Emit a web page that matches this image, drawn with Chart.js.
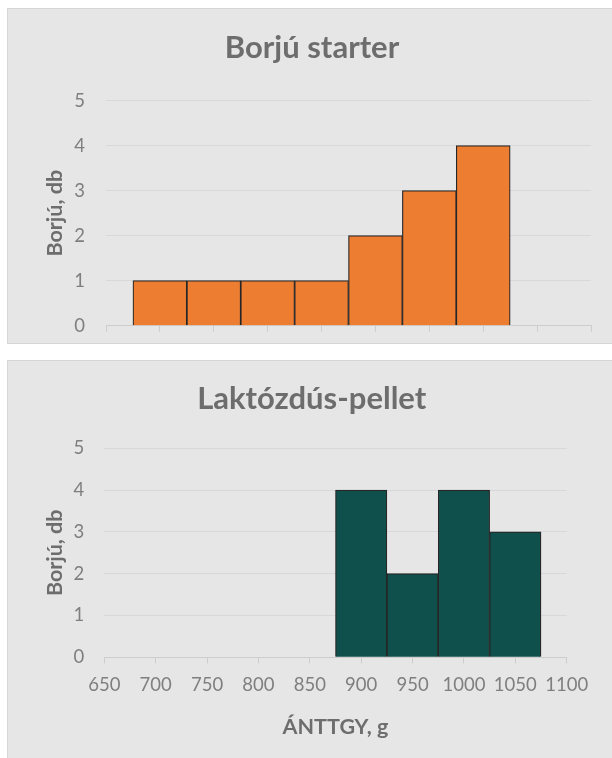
<!DOCTYPE html>
<html lang="hu">
<head>
<meta charset="utf-8">
<script src="https://cdn.jsdelivr.net/npm/chart.js@4"></script>
<style>
    body { margin: 0; background: #fff; width: 612px; height: 758px; overflow: hidden; position: relative; }
    .panel { position: absolute; left: 7px; width: 640px; background: #e6e6e6; border: 1px solid #d6d6d6; }
    #panelTop { top: 8px; height: 334px; }
    #panelBottom { top: 360px; height: 420px; }
    canvas { position: absolute; left: 0; top: 0; }
</style>
</head>
<body>
<div class="panel" id="panelTop"><canvas id="starterChart" width="608" height="350"></canvas></div>
<div class="panel" id="panelBottom"><canvas id="pelletChart" width="608" height="397"></canvas></div>

<script>
// adatok
const xTickLabels = [650, 700, 750, 800, 850, 900, 950, 1000, 1050, 1100];
const yTickLabels = [0, 1, 2, 3, 4, 5];
const starterBins = [700, 750, 800, 850, 900, 950, 1000];
const starterCounts = [1, 1, 1, 1, 2, 3, 4];
const pelletBins = [900, 950, 1000, 1050];
const pelletCounts = [4, 2, 4, 3];

const FONT = 'Lato, "Open Sans", sans-serif';
const TITLE_COLOR = '#6d6d6d';
const TICK_COLOR = '#7f7f7f';

function buildChart(canvasId, opts) {
    const points = opts.bins.map((b, i) => ({ x: b, y: opts.counts[i] }));

    return new Chart(document.getElementById(canvasId), {
        type: 'bar',
        data: {
            datasets: [{
                data: points,
                backgroundColor: opts.color,
                borderColor: '#262626',
                borderWidth: 1.2,
                categoryPercentage: 1,
                barPercentage: 1
            }]
        },
        options: {
            responsive: false,
            animation: false,
            layout: { padding: { left: opts.leftPad, right: opts.rightPad, top: 0, bottom: 0 } },
            plugins: {
                legend: { display: false },
                tooltip: { enabled: false },
                title: {
                    display: true,
                    text: opts.title,
                    color: TITLE_COLOR,
                    font: { family: FONT, size: 31, weight: 'bold' },
                    padding: { top: opts.titleTop, bottom: opts.titleBottom }
                }
            },
            scales: {
                x: {
                    type: 'linear',
                    min: xTickLabels[0],
                    max: xTickLabels[xTickLabels.length - 1],
                    offset: false,
                    afterBuildTicks: (scale) => {
                        scale.ticks = xTickLabels.map(v => ({ value: v }));
                    },
                    afterFit: (scale) => { scale.height = opts.xHeight; },
                    grid: {
                        offset: false,
                        drawOnChartArea: false,
                        drawTicks: true,
                        tickLength: 6,
                        color: '#cdcdcd'
                    },
                    border: { display: true, color: '#cdcdcd' },
                    ticks: {
                        display: opts.showX,
                        color: TICK_COLOR,
                        padding: 10.6,
                        maxRotation: 0,
                        autoSkip: false,
                        font: { family: FONT, size: 18.5 },
                        callback: (v) => String(v)
                    },
                    title: {
                        display: opts.showX,
                        text: 'ÁNTTGY, g',
                        color: TITLE_COLOR,
                        font: { family: FONT, size: 21.5, weight: 'bold' },
                        padding: { top: 0, bottom: 18 }
                    }
                },
                y: {
                    min: yTickLabels[0],
                    max: yTickLabels[yTickLabels.length - 1],
                    afterBuildTicks: (scale) => {
                        scale.ticks = yTickLabels.map(v => ({ value: v }));
                    },
                    afterFit: (scale) => { scale.width = opts.yWidth; },
                    grid: { color: '#d8d8dc', drawTicks: false },
                    border: { display: false },
                    ticks: {
                        color: TICK_COLOR,
                        padding: opts.yTickPad,
                        font: { family: FONT, size: 18.5 }
                    },
                    title: {
                        display: true,
                        text: 'Borjú, db',
                        color: TITLE_COLOR,
                        font: { family: FONT, size: 21.5, weight: 'bold' },
                        padding: { top: opts.yTitlePad, bottom: 0 }
                    }
                }
            }
        }
    });
}

document.addEventListener('DOMContentLoaded', () => {
    // felső panel - Borjú starter
    buildChart('starterChart', {
        title: 'Borjú starter',
        bins: starterBins,
        counts: starterCounts,
        color: '#ed7d31',
        showX: false,
        titleTop: 20,
        titleBottom: 34.5,
        xHeight: 33.3,
        leftPad: 25,
        rightPad: 25,
        yWidth: 73,
        yTickPad: 21,
        yTitlePad: 9
    });

    // alsó panel - Laktózdús-pellet
    buildChart('pelletChart', {
        title: 'Laktózdús-pellet',
        bins: pelletBins,
        counts: pelletCounts,
        color: '#0f4f4c',
        showX: true,
        titleTop: 19.5,
        titleBottom: 30.6,
        xHeight: 100.7,
        leftPad: 48.7,
        rightPad: 49.3,
        yWidth: 47.6,
        yTickPad: 20,
        yTitlePad: -15
    });
});
</script>
</body>
</html>
